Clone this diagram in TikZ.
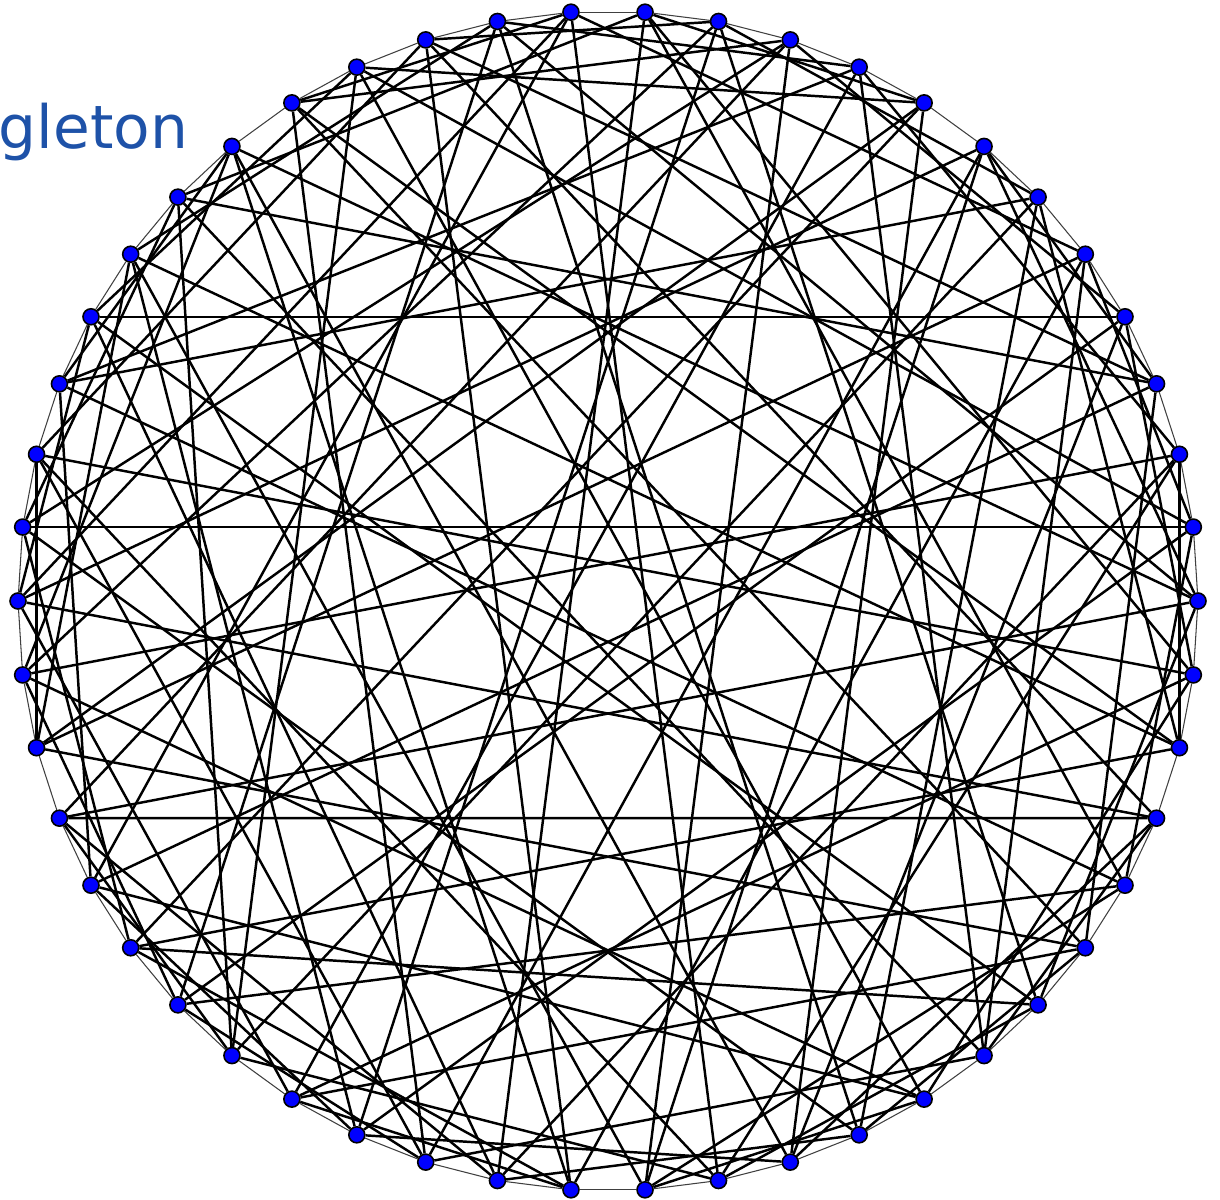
\documentclass[tikz,border=0pt]{standalone}
\usepackage{fontspec}
\newfontfamily\titlefont{DejaVu Sans}
\usetikzlibrary{backgrounds}
\definecolor{titleblue}{RGB}{30,82,168}
\definecolor{vertblue}{RGB}{0,0,255}

\begin{document}
\begin{tikzpicture}[x=0.01cm,y=-0.01cm,
vert/.style={circle,draw=black,fill=vertblue,line width=0.45pt,inner sep=0pt,minimum size=0.16cm},
edge/.style={black,line width=0.7pt},
rim/.style={black!75,line width=0.3pt}]
\useasboundingbox (0,0) rectangle (1220,1200);

\node[anchor=base west,inner sep=0pt,text=titleblue] (T) at (-2,148) {\titlefont\fontsize{17}{19}\selectfont gleton};

% vertices
\foreach \k in {0,...,49}{
\pgfmathsetmacro\px{608+590*cos(7.2*\k)}
\pgfmathsetmacro\py{601-590*sin(7.2*\k)}
\node[vert] (V\k) at (\px,\py) {};
}

\begin{scope}[on background layer]
% hamilton cycle round the rim
\foreach \k in {0,...,49}{
\pgfmathtruncatemacro\n{mod(\k+1,50)}
\draw[rim] (V\k)--(V\n);
}
% chords, five turns of each
\foreach \a/\b in {1/34,1/24,0/28,0/18,7/35,7/25,3/29,3/19,2/36,2/26,
1/46,1/16,0/44,0/14,7/38,3/45,3/15,2/39,2/9,1/5,2/48,0/7,3/7,9/14,6/48}
\foreach \t in {0,...,4}{
\pgfmathtruncatemacro\p{mod(\a+10*\t,50)}
\pgfmathtruncatemacro\q{mod(\b+10*\t,50)}
\draw[edge] (V\p)--(V\q);
}
\end{scope}
\end{tikzpicture}
\end{document}
